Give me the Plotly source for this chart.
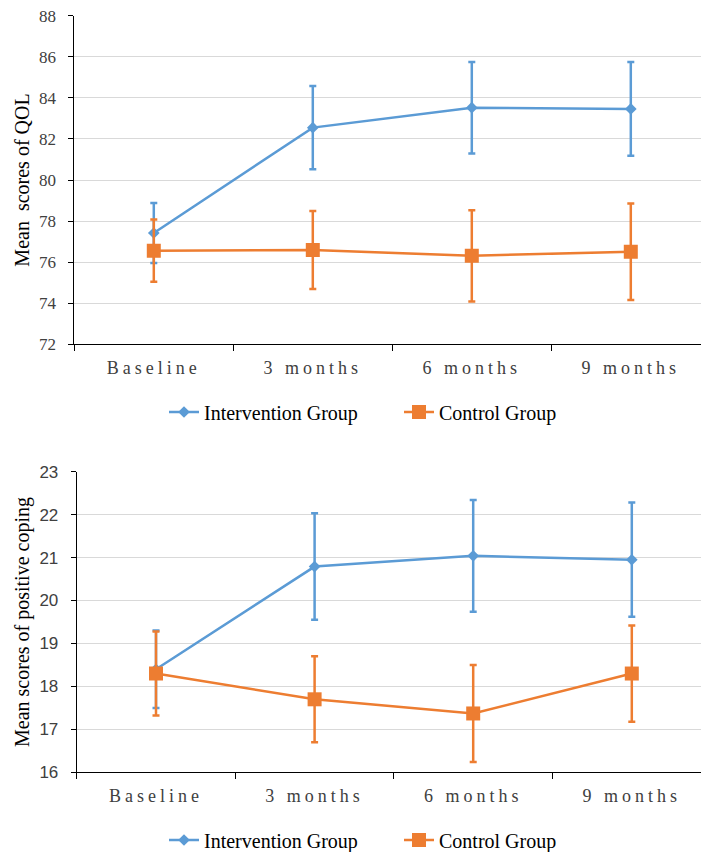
import plotly.graph_objects as go

categories = ["Baseline", "3 months", "6 months", "9 months"]

# Top chart: Quality of life
qol_intervention = [77.42, 82.55, 83.52, 83.46]
qol_intervention_err = [1.46, 2.03, 2.23, 2.28]
qol_control = [76.56, 76.59, 76.31, 76.51]
qol_control_err = [1.52, 1.90, 2.22, 2.35]

# Bottom chart: positive coping
cop_intervention = [18.40, 20.79, 21.04, 20.95]
cop_intervention_err = [0.90, 1.24, 1.30, 1.33]
cop_control = [18.30, 17.70, 17.37, 18.30]
cop_control_err = [0.98, 1.00, 1.13, 1.12]

BLUE = "#5B9BD5"
ORANGE = "#ED7D31"
SERIF = "Liberation Serif, Times New Roman, serif"
SANS = "Liberation Sans, Arial, sans-serif"
TXT = "#404040"

fig = go.Figure()

def add_pair(xa, ya, legend, vi, ei, vc, ec):
    fig.add_trace(go.Scatter(
        x=categories, y=vi, name="Intervention Group", mode="lines+markers",
        xaxis=xa, yaxis=ya, legend=legend,
        line=dict(color=BLUE, width=2.5),
        marker=dict(symbol="diamond", size=9, color=BLUE),
        error_y=dict(type="data", array=ei, color=BLUE, thickness=2.5, width=3.5),
    ))
    fig.add_trace(go.Scatter(
        x=categories, y=vc, name="Control Group", mode="lines+markers",
        xaxis=xa, yaxis=ya, legend=legend,
        line=dict(color=ORANGE, width=2.5),
        marker=dict(symbol="square", size=14, color=ORANGE),
        error_y=dict(type="data", array=ec, color=ORANGE, thickness=2.5, width=3.5),
    ))

add_pair("x", "y", "legend", qol_intervention, qol_intervention_err, qol_control, qol_control_err)
add_pair("x2", "y2", "legend2", cop_intervention, cop_intervention_err, cop_control, cop_control_err)

W, H = 701, 852

def xaxis_cfg(left_px, spacing, anchor):
    right = -0.5 + (W - left_px) / spacing
    return dict(
        type="category", categoryorder="array", categoryarray=categories,
        domain=[left_px / W, 1.0], range=[-0.5, right], anchor=anchor, automargin=False,
        showgrid=False, zeroline=False, showline=True, linecolor="#000000", linewidth=1,
        ticks="outside", tickson="boundaries", ticklen=6, tickcolor="#000000",
        tickfont=dict(family=SERIF, size=18, color=TXT), ticklabelstandoff=7,
    )

def yaxis_cfg(top_px, bot_px, rng, dtick, anchor, title, tfont, standoff):
    return dict(
        domain=[1 - bot_px / H, 1 - top_px / H], range=rng, dtick=dtick, anchor=anchor,
        automargin=False,
        showgrid=True, gridcolor="#D9D9D9", gridwidth=1, zeroline=False,
        showline=True, linecolor="#000000", linewidth=1,
        ticks="outside", ticklen=5, tickcolor="#000000",
        tickfont=tfont, ticklabelstandoff=9,
        title=dict(text=title, font=dict(family=SERIF, size=20, color="#000000"), standoff=standoff),
    )

fig.update_layout(
    width=W, height=H,
    margin=dict(l=0, r=0, t=0, b=0, autoexpand=False),
    paper_bgcolor="white", plot_bgcolor="white",
    xaxis=xaxis_cfg(74.3, 159.0, "y"),
    yaxis=yaxis_cfg(15.7, 344.3, [72, 88], 2, "x", "Mean  scores of QOL",
                    dict(family=SERIF, size=17, color=TXT), 3),
    xaxis2=xaxis_cfg(76.7, 158.6, "y2"),
    yaxis2=yaxis_cfg(471.7, 772.3, [16, 23], 1, "x2", "Mean scores of positive coping",
                     dict(family=SANS, size=17, color=TXT), 4),
    legend=dict(orientation="h", x=164 / W, xanchor="left", y=1 - 412 / H, yanchor="middle",
                font=dict(family=SERIF, size=20, color="#000000"), entrywidth=190,
                bgcolor="rgba(0,0,0,0)"),
    legend2=dict(orientation="h", x=164 / W, xanchor="left", y=1 - 840 / H, yanchor="middle",
                 font=dict(family=SERIF, size=20, color="#000000"), entrywidth=190,
                 bgcolor="rgba(0,0,0,0)"),
    showlegend=True,
)

post = """
document.body.style.margin = '0';
document.querySelectorAll('.xtick text, .x2tick text').forEach(function(t){
  t.setAttribute('letter-spacing','4px');
});
"""

fig.write_html("out.html", post_script=post, config={"displayModeBar": False})
